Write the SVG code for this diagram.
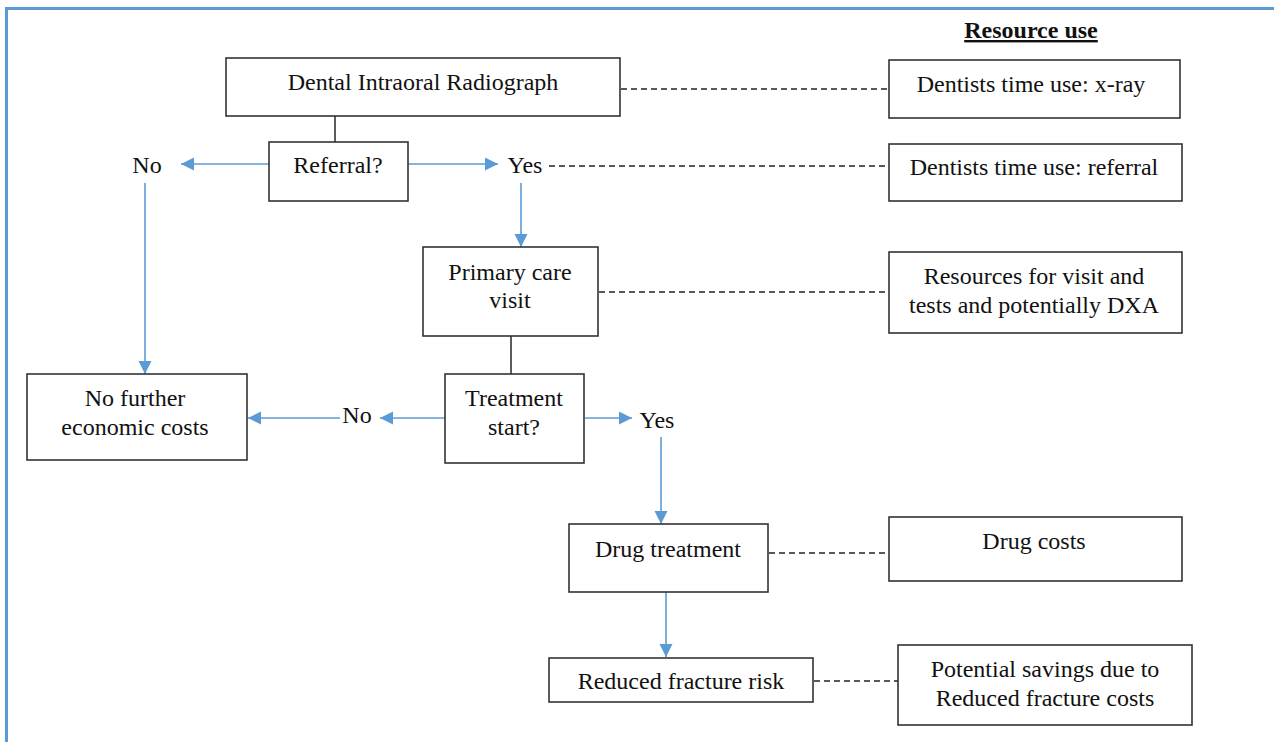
<svg xmlns="http://www.w3.org/2000/svg" width="1274" height="742" viewBox="0 0 1274 742">
<defs>
<marker id="ah" markerWidth="14" markerHeight="14" refX="13" refY="6.5" orient="auto" markerUnits="userSpaceOnUse">
<path d="M0,0 L13,6.5 L0,13 Z" fill="#5b9bd5"/>
</marker>
<style>
.box{fill:#fff;stroke:#333;stroke-width:1.6}
.t{font-family:"Liberation Serif","Times New Roman",serif;font-size:24px;fill:#111;text-anchor:middle}
.blue{stroke:#5b9bd5;stroke-width:1.6;fill:none}
.blk{stroke:#333;stroke-width:1.6;fill:none}
.dash{stroke:#222;stroke-width:1.3;stroke-dasharray:6,4;fill:none}
</style>
</defs>
<rect width="1274" height="742" fill="#fff"/>
<path d="M6.5,742 V8.5 H1274" stroke="#5b9bd5" stroke-width="3" fill="none"/>
<text class="t" x="1031" y="38" font-weight="bold" text-decoration="underline">Resource use</text>

<g id="connectors">
<line class="blk" x1="335" y1="116" x2="335" y2="142"/>
<line class="blue" x1="269" y1="164" x2="181" y2="164" marker-end="url(#ah)"/>
<line class="blue" x1="408" y1="164" x2="498" y2="164" marker-end="url(#ah)"/>
<line class="blue" x1="145" y1="183" x2="145" y2="374" marker-end="url(#ah)"/>
<line class="blue" x1="521" y1="183" x2="521" y2="247" marker-end="url(#ah)"/>
<line class="dash" x1="621" y1="89" x2="889" y2="89"/>
<line class="dash" x1="549" y1="166" x2="889" y2="166"/>
<line class="dash" x1="599" y1="292" x2="889" y2="292"/>
<line class="blk" x1="511" y1="336" x2="511" y2="374"/>
<line class="blue" x1="445" y1="418" x2="380" y2="418" marker-end="url(#ah)"/>
<line class="blue" x1="340" y1="418" x2="248" y2="418" marker-end="url(#ah)"/>
<line class="blue" x1="585" y1="418" x2="632" y2="418" marker-end="url(#ah)"/>
<line class="blue" x1="661" y1="437" x2="661" y2="524" marker-end="url(#ah)"/>
<line class="dash" x1="769" y1="553" x2="889" y2="553"/>
<line class="blue" x1="666" y1="592" x2="666" y2="657" marker-end="url(#ah)"/>
<line class="dash" x1="814" y1="681" x2="898" y2="681"/>
</g>

<g id="n-radiograph"><rect class="box" x="226" y="58" width="394" height="58"/><text class="t" x="423" y="90">Dental Intraoral Radiograph</text></g>
<g id="n-xray"><rect class="box" x="889" y="60" width="291" height="58"/><text class="t" x="1031" y="92">Dentists time use: x-ray</text></g>
<g id="n-referral"><rect class="box" x="269" y="142" width="139" height="59"/><text class="t" x="338" y="173">Referral?</text></g>
<g id="n-no1"><text class="t" x="147" y="173">No</text></g>
<g id="n-yes1"><text class="t" x="525" y="173">Yes</text></g>
<g id="n-dref"><rect class="box" x="889" y="144" width="293" height="57"/><text class="t" x="1034" y="175">Dentists time use: referral</text></g>
<g id="n-primary"><rect class="box" x="423" y="247" width="175" height="89"/><text class="t" x="510" y="280">Primary care</text><text class="t" x="510" y="308">visit</text></g>
<g id="n-resources"><rect class="box" x="889" y="252" width="293" height="81"/><text class="t" x="1034" y="284">Resources for visit and</text><text class="t" x="1034" y="313">tests and potentially DXA</text></g>
<g id="n-nofurther"><rect class="box" x="27" y="374" width="220" height="86"/><text class="t" x="135" y="406">No further</text><text class="t" x="135" y="435">economic costs</text></g>
<g id="n-treat"><rect class="box" x="445" y="374" width="139" height="89"/><text class="t" x="514" y="406">Treatment</text><text class="t" x="514" y="435">start?</text></g>
<g id="n-no2"><text class="t" x="357" y="423">No</text></g>
<g id="n-yes2"><text class="t" x="657" y="428">Yes</text></g>
<g id="n-drug"><rect class="box" x="569" y="524" width="199" height="68"/><text class="t" x="668" y="557">Drug treatment</text></g>
<g id="n-drugcosts"><rect class="box" x="889" y="517" width="293" height="64"/><text class="t" x="1034" y="549">Drug costs</text></g>
<g id="n-reduced"><rect class="box" x="549" y="658" width="264" height="44"/><text class="t" x="681" y="689">Reduced fracture risk</text></g>
<g id="n-savings"><rect class="box" x="898" y="645" width="294" height="80"/><text class="t" x="1045" y="677">Potential savings due to</text><text class="t" x="1045" y="706">Reduced fracture costs</text></g>
</svg>
